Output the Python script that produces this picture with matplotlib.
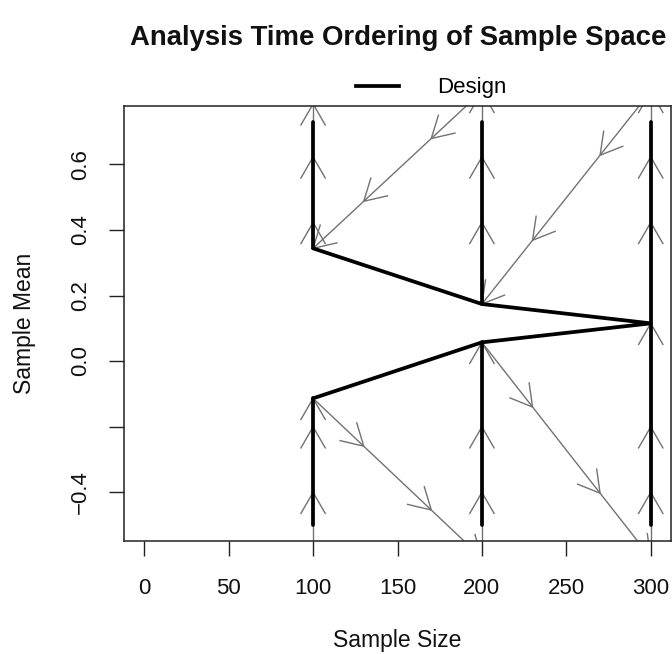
import numpy as np
import matplotlib
matplotlib.use('Agg')
import matplotlib.pyplot as plt
from matplotlib.lines import Line2D

# ---------------- data ----------------
stage_n = [100, 200, 300]                 # analysis sample sizes
upper_bound = [0.344, 0.174, 0.115]       # upper stopping boundary (sample mean)
lower_bound = [-0.114, 0.057, 0.115]      # lower stopping boundary (sample mean)
design_range = [-0.50, 0.73]              # extent of stopping-region (design) lines
space_range = [-0.601, 0.823]             # extent of the sample space arrows
low_tips = [-0.401, -0.201]               # arrowheads below the lower boundary
high_tips = [[0.423, 0.623, 0.785],       # arrowheads above the upper boundary, per analysis
             [0.423, 0.623, 0.823],
             [0.423, 0.623, 0.823]]
diag_tip_steps = [30, 70, 100]            # arrowheads along the diagonals (sample-size steps)
xticks = [0, 50, 100, 150, 200, 250, 300]
yticks = [-0.4, -0.2, 0.0, 0.2, 0.4, 0.6]
ytick_labels = ['\u22120.4', '', '0.0', '0.2', '0.4', '0.6']

# ---------------- layout ----------------
W, H = 672, 654
L, R, T, B = 124, 671, 105.8, 540.9
plt.rcParams['font.family'] = ['Liberation Sans', 'DejaVu Sans']
fig = plt.figure(figsize=(W / 100, H / 100), dpi=100)
ax = fig.add_axes([L / W, 1 - B / H, (R - L) / W, (B - T) / H])
ax.set_xlim(-12, 312)
ax.set_ylim(-0.5492, 0.7792)

GRAY = '#727272'
gkw = dict(color=GRAY, lw=1.0, solid_capstyle='butt', zorder=2)


def draw_head(tip, prev, length=25, angle=30):
    tr = ax.transData
    p_tip = tr.transform(tip)
    p_prev = tr.transform(prev)
    d = p_tip - p_prev
    d = d / np.hypot(*d)
    pts = []
    for s in (1, -1):
        a = np.deg2rad(angle) * s
        rot = np.array([[np.cos(a), -np.sin(a)], [np.sin(a), np.cos(a)]])
        pts.append(p_tip - length * (rot @ d))
    barb = tr.inverted().transform(np.array([pts[0], p_tip, pts[1]]))
    ax.plot(barb[:, 0], barb[:, 1], **gkw)


# vertical sample-space arrows
for i, n in enumerate(stage_n):
    # below lower boundary, pointing up
    ax.plot([n, n], [space_range[0], lower_bound[i]], **gkw)
    for yt in low_tips + [lower_bound[i]]:
        draw_head((n, yt), (n, space_range[0]))
    # above upper boundary, pointing up
    ax.plot([n, n], [upper_bound[i], space_range[1]], **gkw)
    for yt in high_tips[i]:
        draw_head((n, yt), (n, upper_bound[i]))

# diagonal arrows between analyses
for i in range(len(stage_n) - 1):
    n0, n1 = stage_n[i], stage_n[i + 1]
    # lower: from lower boundary at n0 down to bottom at n1
    x0, y0, x1, y1 = n0, lower_bound[i], n1, space_range[0]
    ax.plot([x0, x1], [y0, y1], **gkw)
    for s in diag_tip_steps:
        xt = n0 + s
        yt = y0 + (y1 - y0) * (xt - x0) / (x1 - x0)
        draw_head((xt, yt), (x0, y0))
    # upper: from top at n1 down to upper boundary at n0
    x0, y0, x1, y1 = n1, space_range[1], n0, upper_bound[i]
    ax.plot([x0, x1], [y0, y1], **gkw)
    for s in diag_tip_steps:
        xt = n1 - s
        yt = y0 + (y1 - y0) * (xt - x0) / (x1 - x0)
        draw_head((xt, yt), (x0, y0))

# design: stopping regions + boundaries
dkw = dict(color='black', lw=2.7, solid_capstyle='round', solid_joinstyle='round', zorder=3)
for i, n in enumerate(stage_n):
    if i < len(stage_n) - 1:
        ax.plot([n, n], [design_range[0], lower_bound[i]], **dkw)
        ax.plot([n, n], [upper_bound[i], design_range[1]], **dkw)
    else:
        ax.plot([n, n], [design_range[0], design_range[1]], **dkw)
ax.plot(stage_n + stage_n[::-1][1:], lower_bound + upper_bound[::-1][1:], **dkw)

# ---------------- axes styling ----------------
for sp in ax.spines.values():
    sp.set_linewidth(1.1)
    sp.set_color('#222222')
ax.set_xticks(xticks)
ax.set_xticklabels([str(v) for v in xticks])
ax.set_yticks(yticks)
ax.set_yticklabels(ytick_labels, rotation=90, va='center')
ax.tick_params(direction='out', length=10.5, width=1.0, color='#222222',
               labelsize=16, labelcolor='#111111')
ax.tick_params(axis='x', pad=16)
ax.tick_params(axis='y', pad=13.5)

ax.set_xlabel('Sample Size', fontsize=16.5, color='#111111', va='center')
ax.xaxis.set_label_coords(0.5, (B - 640) / (B - T))
ax.set_ylabel('Sample Mean', fontsize=16.5, color='#111111', va='center')
ax.yaxis.set_label_coords((25 - L) / (R - L), 0.5)

fig.text(398.5 / W, 1 - 38 / H, 'Analysis Time Ordering of Sample Space',
         fontsize=19.8, fontweight='bold', ha='center', va='center', color='#111111')

leg = fig.legend(handles=[Line2D([], [], color='black', lw=2.7)], labels=['Design'],
                 loc='center', bbox_to_anchor=(431 / W, 1 - 88 / H),
                 frameon=False, fontsize=16, handlelength=1.94, handletextpad=1.7)

fig.savefig('out.png', dpi=100)
